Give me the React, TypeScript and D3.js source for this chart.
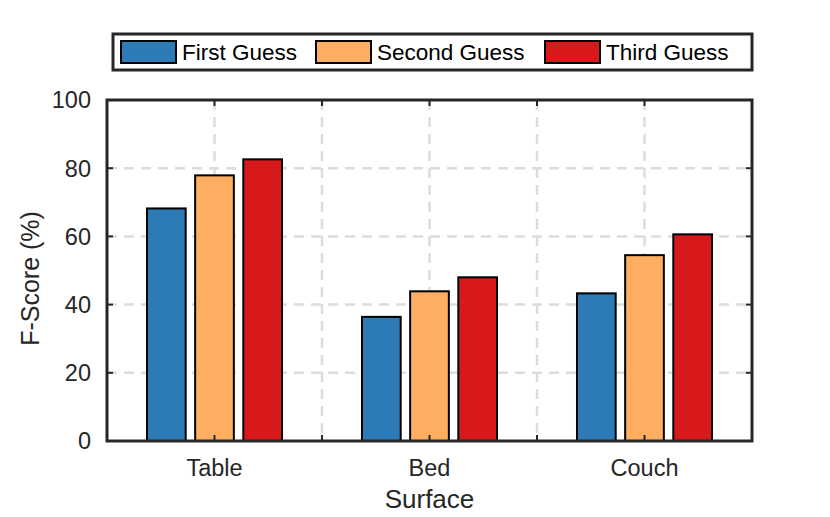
import * as d3 from "d3";

const categories = ["Table", "Bed", "Couch"];
const seriesNames = ["First Guess", "Second Guess", "Third Guess"];
const firstGuess = [68.2, 36.4, 43.3];
const secondGuess = [77.9, 43.9, 54.5];
const thirdGuess = [82.6, 48.0, 60.6];
const yTicks = [0, 20, 40, 60, 80, 100];
const xGrid = [1, 1.5, 2, 2.5, 3];

const colors = ["#2c7bb6", "#fdae61", "#d7191c"];
const series = [firstGuess, secondGuess, thirdGuess];

const W = 830, H = 517;
const m = { left: 107, right: 752, top: 100, bottom: 441 };
const font = "'Liberation Sans', Arial, Helvetica, sans-serif";
const ink = "#262626";

const App = () => {
  const x = d3.scaleLinear().domain([0.5, 3.5]).range([m.left, m.right]);
  const y = d3.scaleLinear().domain([0, 100]).range([m.bottom, m.top]);
  const unit = x(1) - x(0);
  const barW = 0.18 * unit;
  const step = 0.224 * unit;
  const tick = 6;

  const legendX = [121, 316, 545];

  return (
    <svg width={W} height={H} style={{ position: "absolute", left: 0, top: 0 }} fontFamily={font}>
      <rect width={W} height={H} fill="#fff" />
      {/* grid */}
      <g stroke="#dcdcdc" strokeWidth={2.5} strokeDasharray="10,7">
        {yTicks.slice(1, -1).map((t) => (
          <line key={"h" + t} x1={m.left} x2={m.right} y1={y(t)} y2={y(t)} />
        ))}
        {xGrid.map((t) => (
          <line key={"v" + t} x1={x(t)} x2={x(t)} y1={m.top} y2={m.bottom} />
        ))}
      </g>
      {/* bars */}
      {series.map((vals, s) =>
        vals.map((v, i) => {
          const cx = x(i + 1) + (s - 1) * step;
          return (
            <rect
              key={s + "-" + i}
              x={cx - barW / 2}
              y={y(v)}
              width={barW}
              height={y(0) - y(v)}
              fill={colors[s]}
              stroke="#000"
              strokeWidth={2}
            />
          );
        })
      )}
      {/* ticks */}
      <g stroke={ink} strokeWidth={2}>
        {yTicks.map((t) => (
          <g key={"yt" + t}>
            <line x1={m.left} x2={m.left + tick} y1={y(t)} y2={y(t)} />
            <line x1={m.right} x2={m.right - tick} y1={y(t)} y2={y(t)} />
          </g>
        ))}
        {xGrid.map((t) => (
          <g key={"xt" + t}>
            <line x1={x(t)} x2={x(t)} y1={m.bottom} y2={m.bottom - tick} />
            <line x1={x(t)} x2={x(t)} y1={m.top} y2={m.top + tick} />
          </g>
        ))}
      </g>
      <rect
        x={m.left}
        y={m.top}
        width={m.right - m.left}
        height={m.bottom - m.top}
        fill="none"
        stroke={ink}
        strokeWidth={3}
      />
      {/* tick labels */}
      <g fill={ink} fontSize={23.5}>
        {yTicks.map((t) => (
          <text key={"yl" + t} x={m.left - 16} y={y(t)} dy="0.36em" textAnchor="end">
            {t}
          </text>
        ))}
        {categories.map((c, i) => (
          <text key={c} x={x(i + 1)} y={m.bottom + 35} textAnchor="middle">
            {c}
          </text>
        ))}
      </g>
      <text x={x(2)} y={508} textAnchor="middle" fontSize={26} fill={ink}>
        Surface
      </text>
      <text
        transform={`translate(39,${(m.top + m.bottom) / 2 + 8}) rotate(-90)`}
        textAnchor="middle"
        fontSize={25}
        fill={ink}
      >
        F-Score (%)
      </text>
      {/* legend */}
      <rect x={113} y={34} width={639} height={36} fill="#fff" stroke={ink} strokeWidth={3} />
      {seriesNames.map((n, s) => (
        <g key={n}>
          <rect x={legendX[s]} y={41} width={55} height={22} fill={colors[s]} stroke="#000" strokeWidth={2} />
          <text x={legendX[s] + 61} y={52} dy="0.36em" fontSize={22.5} fill="#000">
            {n}
          </text>
        </g>
      ))}
    </svg>
  );
};

export default App;
